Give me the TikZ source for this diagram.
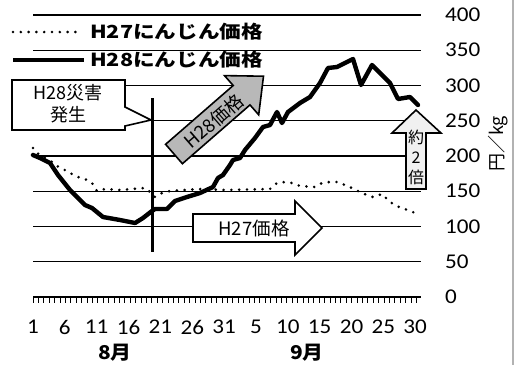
\documentclass[tikz,border=0pt]{standalone}
\usepackage{fontspec}
\usepackage{graphicx}
\setmainfont{Carlito}
\newfontfamily\jpf{Noto Sans CJK JP}
\newcommand\hsx[2]{\scalebox{#1}[1]{#2}}
\begin{document}
\begin{tikzpicture}[x=1pt,y=-1pt,
  gridline/.style={line width=1.2pt},
  hh28/.style={line width=4.4pt, line join=round, line cap=round},
  hh27/.style={line width=2.9pt, line cap=round, dash pattern=on 0pt off 7.8pt},
  numlbl/.style={inner sep=0pt, font=\fontsize{21}{21}\selectfont},
  jplbl/.style={inner sep=0pt, font=\jpf\fontsize{18}{18}\selectfont},
  arrlbl/.style={inner sep=0pt, font=\jpf\fontsize{18.5}{18.5}\selectfont},
  leglbl/.style={inner sep=0pt, anchor=west, font=\jpf\bfseries\fontsize{18}{18}\selectfont},
  monlbl/.style={inner sep=0pt, font=\jpf\bfseries\fontsize{19}{19}\selectfont},
  shapeline/.style={line width=1.6pt, line join=miter}]
\useasboundingbox (0,0) rectangle (525,365);
\fill[white] (0,0) rectangle (525,365);
% right frame line
\draw[black!30, line width=1.5pt] (513,0) -- (513,365);
% grid
\foreach \k in {0,...,7} \draw[gridline] (33,{15+35.25*\k}) -- (421,{15+35.25*\k});
\draw[gridline] (33,297) -- (421,297);
\foreach \i in {0,...,71} \draw[line width=1pt] ({33+\i*5.4},297) -- ({33+\i*5.4},303);
% y labels
\foreach \v [count=\k from 0] in {400,350,300,250,200,150,100,50,0}
  \node[numlbl, anchor=west] (y\v) at (445,{15+35.25*\k}) {\hsx{1.1}{\v}};
% x labels
\foreach \i/\l in {1/1,6/6,11/11,16/16,21/21,26/26,31/31,36/5,41/10,46/15,51/20,56/25,61/30}
  \node[numlbl] (x\i) at ({33+(\i-1)*6.37},327) {\hsx{1.1}{\l}};
\node[monlbl] (aug) at (115,353) {\hsx{1.1}{8月}};
\node[monlbl] (sep) at (307,353) {\hsx{1.1}{9月}};
\node[jplbl, rotate=90] (unit) at (498,144) {円／kg};
% H27 dotted
\draw[hh27] plot coordinates {(33,148) (37,153) (45,158) (52,162) (57,166) (63,169) (70,173) (78,177) (85,179) (92,183) (97,191) (105,189) (120,190) (145,188) (150,192) (155,197) (162,193) (170,191) (200,189) (225,190) (270,189) (277,183) (285,182) (292,183) (300,186) (315,187) (322,183) (330,182) (337,182) (345,185) (352,188) (360,192) (367,195) (373,197) (382,194) (388,200) (393,204) (401,208) (408,210) (415,213)};
% H28 solid
\draw[hh28] plot coordinates {(33,155) (40,158) (50,163) (58,175) (70,190) (85,205) (92,208) (103,217) (120,220) (135,223) (143,218) (152,211) (155,209) (167,209) (175,201) (187,197) (200,193) (213,187) (218,178) (223,175) (230,165) (233,160) (240,158) (245,150) (255,138) (263,127) (270,125) (277,112) (282,123) (288,112) (300,103) (310,97) (320,83) (328,68) (337,67) (353,59) (361,85) (372,65) (382,75) (390,83) (398,99) (410,97) (418,105)};
% disaster line
\draw[line width=3pt] (152,98) -- (152,252);
% callout
\draw[shapeline, fill=white] (12,80) -- (125,80) -- (125,107) -- (151,120) -- (125,126) -- (125,130) -- (12,130) -- cycle;
\node[jplbl] (c1) at (68,93) {H28災害};
\node[jplbl] (c2) at (68,115) {発生};
% gray arrow H28
\draw[shapeline, fill=black!28] (165.6,144.3) -- (233.2,85.5) -- (224.5,75.6) -- (263.5,76.2) -- (258.7,114.8) -- (250,104.9) -- (182.4,163.7) -- cycle;
\node[arrlbl, rotate=41] (a28) at (214,121) {H28価格};
% white arrow H27
\draw[shapeline, fill=white] (193,214) -- (295,214) -- (295,201) -- (322,228) -- (295,255) -- (295,242) -- (193,242) -- cycle;
\node[arrlbl] (a27) at (254,228) {H27価格};
% up arrow
\draw[shapeline, fill=black!6] (406,189) -- (406,133) -- (392,133) -- (416,110) -- (441,133) -- (426,133) -- (426,189) -- cycle;
\node[inner sep=0pt, align=center, font=\jpf\fontsize{16}{20}\selectfont] (twice) at (416,157) {約\\2\\倍};
% legend
\draw[hh27] (13,32) -- (82,32);
\draw[line width=4.5pt] (13,60) -- (84,60);
\node[leglbl] (l27) at (90,32) {\hsx{1.2}{H27にんじん価格}};
\node[leglbl] (l28) at (90,60) {\hsx{1.2}{H28にんじん価格}};
\end{tikzpicture}
\end{document}
